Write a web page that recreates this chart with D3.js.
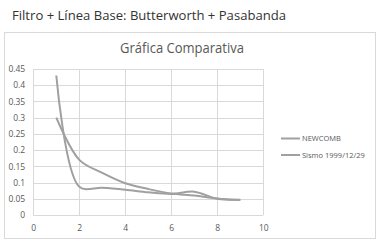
<!DOCTYPE html>
<html><head><meta charset="utf-8">
<script src="https://cdn.jsdelivr.net/npm/d3@7"></script>
<style>body{margin:0;background:#fff;} svg{display:block;}</style>
</head><body>
<svg id="c" width="380" height="242"></svg>
<script>
const xValues = [1, 2, 3, 4, 5, 6, 7, 8, 9];
const newcomb = [0.43, 0.087, 0.084, 0.078, 0.070, 0.065, 0.072, 0.050, 0.047];
const sismo   = [0.30, 0.170, 0.130, 0.098, 0.080, 0.066, 0.060, 0.051, 0.046];
const seriesNames = ["NEWCOMB", "Sismo 1999/12/29"];
const xTicks = [0, 2, 4, 6, 8, 10];
const yTicks = [0, 0.05, 0.1, 0.15, 0.2, 0.25, 0.3, 0.35, 0.4, 0.45];
const pageTitle = "Filtro + Línea Base: Butterworth + Pasabanda";
const chartTitle = "Gráfica Comparativa";

const svg = d3.select("#c");
const font = "'Open Sans', 'Liberation Sans', sans-serif";
const txt = "#595959", grid = "#d9d9d9", lineCol = "#a0a0a0";

svg.append("text").attr("x", 12).attr("y", 20).attr("font-family", font)
  .attr("font-size", 13).attr("fill", "#333").attr("textLength", 274)
  .attr("lengthAdjust", "spacingAndGlyphs").text(pageTitle);

svg.append("rect").attr("x", 4.5).attr("y", 32.5).attr("width", 371).attr("height", 206)
  .attr("fill", "#fff").attr("stroke", grid);

svg.append("text").attr("x", 182).attr("y", 53).attr("text-anchor", "middle")
  .attr("font-family", font).attr("font-size", 14.5).attr("fill", txt)
  .attr("textLength", 124).attr("lengthAdjust", "spacingAndGlyphs").text(chartTitle);

const x = d3.scaleLinear().domain([0, 10]).range([33.3, 263.3]);
const y = d3.scaleLinear().domain([0, 0.45]).range([215, 69]);

const g = svg.append("g");
g.selectAll(".hg").data(yTicks).enter().append("line")
  .attr("x1", x(0)).attr("x2", x(10))
  .attr("y1", d => Math.round(y(d)) + 0.5).attr("y2", d => Math.round(y(d)) + 0.5)
  .attr("stroke", grid).attr("stroke-width", 1);
g.selectAll(".vg").data(xTicks).enter().append("line")
  .attr("y1", y(0.45)).attr("y2", y(0))
  .attr("x1", d => Math.round(x(d)) + 0.5).attr("x2", d => Math.round(x(d)) + 0.5)
  .attr("stroke", grid).attr("stroke-width", 1);

const xAxis = d3.axisBottom(x).tickValues(xTicks).tickSize(0).tickFormat(d3.format("d"));
const gx = svg.append("g").attr("transform", `translate(0,${y(0)})`).call(xAxis);
gx.select(".domain").remove();
gx.selectAll("text").attr("font-family", font).attr("font-size", 8.5).attr("fill", txt).attr("dy", "1.55em");

const yAxis = d3.axisLeft(y).tickValues(yTicks).tickSize(0).tickFormat(d => d === 0 ? "0" : String(+d.toFixed(2)));
const gy = svg.append("g").attr("transform", `translate(${x(0)},0)`).call(yAxis);
gy.select(".domain").remove();
gy.selectAll("text").attr("font-family", font).attr("font-size", 8.5).attr("fill", txt).attr("dx", "-0.6em");

const line = d3.line().x(d => x(d[0])).y(d => y(d[1])).curve(d3.curveCatmullRom.alpha(0.5));
[newcomb, sismo].forEach(vals => {
  svg.append("path").datum(xValues.map((xv, i) => [xv, vals[i]]))
    .attr("d", line).attr("fill", "none").attr("stroke", lineCol).attr("stroke-width", 2);
});

const lg = svg.append("g");
seriesNames.forEach((name, i) => {
  const ly = 138.5 + i * 16.5;
  lg.append("line").attr("x1", 281).attr("x2", 300).attr("y1", ly).attr("y2", ly)
    .attr("stroke", lineCol).attr("stroke-width", 2);
  lg.append("text").attr("x", 302).attr("y", ly + 2.8).attr("font-family", font)
    .attr("font-size", 7.5).attr("fill", txt).text(name);
});
</script>
</body></html>
